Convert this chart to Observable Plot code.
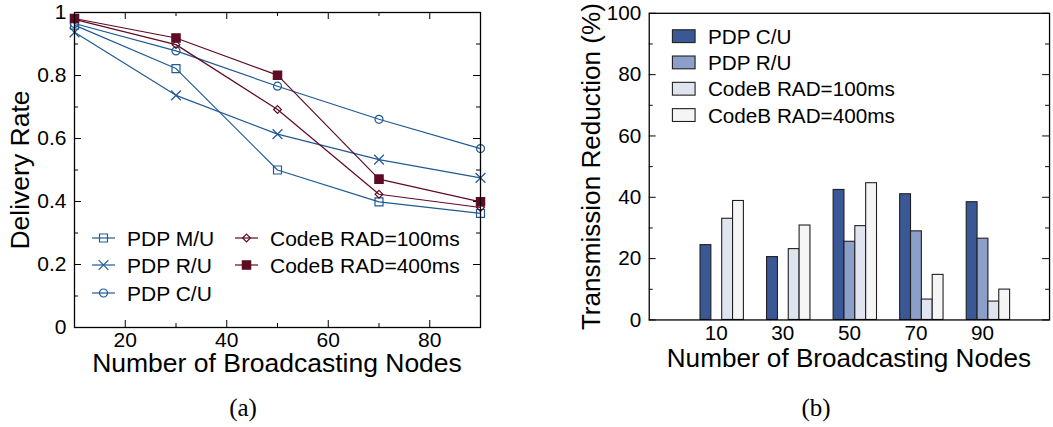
<!DOCTYPE html>
<html>
<head>
<meta charset="utf-8">
<script src="https://cdn.jsdelivr.net/npm/d3@7"></script>
<script src="https://cdn.jsdelivr.net/npm/@observablehq/plot@0.6"></script>
<style>
  body { margin: 0; background: #fff; overflow: hidden; }
  #wrap { position: relative; width: 1053px; height: 427px; overflow: hidden; background: #fff; }
  #a, #b { position: absolute; top: 0; }
  #a { left: 0; }
  #b { left: 560px; }
  .cap { position: absolute; top: 394px; font-family: "Liberation Serif", "Times New Roman", serif; font-size: 25px; color: #000; transform: translateX(-50%); }
</style>
</head>
<body>
<div id="wrap">
  <div id="a"></div>
  <div id="b"></div>
  <div class="cap" style="left:243px">(a)</div>
  <div class="cap" style="left:816px">(b)</div>
</div>
<script>
// ---------- data ----------
const nodes = [10, 30, 50, 70, 90];

// (a) delivery rate
const lineSeries = ["PDP M/U", "PDP R/U", "PDP C/U", "CodeB RAD=100ms", "CodeB RAD=400ms"];
const pdpMU    = [0.960, 0.822, 0.500, 0.399, 0.362];
const pdpRU    = [0.937, 0.737, 0.614, 0.533, 0.475];
const pdpCU    = [0.965, 0.878, 0.766, 0.661, 0.568];
const codeb100 = [0.978, 0.898, 0.692, 0.423, 0.381];
const codeb400 = [0.981, 0.919, 0.801, 0.471, 0.399];

// (b) transmission reduction (%)
const barSeries = ["PDP C/U", "PDP R/U", "CodeB RAD=100ms", "CodeB RAD=400ms"];
const redCU  = [24.4, 20.5, 42.4, 41.0, 38.4];
const redRU  = [0, 0, 25.5, 28.9, 26.5];
const red100 = [33.0, 23.1, 30.6, 6.65, 6.0];
const red400 = [38.8, 30.8, 44.6, 14.7, 9.9];

// ticks
const xTicksA = [20, 40, 60, 80];
const xMinorA = [30, 50, 70];
const yTicksA = [0, 0.2, 0.4, 0.6, 0.8, 1];
const yMinorA = [0.1, 0.3, 0.5, 0.7, 0.9];
const yTicksB = [0, 20, 40, 60, 80, 100];
const yMinorB = [10, 30, 50, 70, 90];

// ---------- styles ----------
const FONT = "'Liberation Sans', Arial, Helvetica, sans-serif";
const BLUE = "#215a94";
const RED = "#5e0b23";
const lineStyles = [
  {name: lineSeries[0], values: pdpMU,    color: BLUE, symbol: "square",   r: 4.5, fill: "none"},
  {name: lineSeries[1], values: pdpRU,    color: BLUE, symbol: "times",    r: 4.5, fill: "none"},
  {name: lineSeries[2], values: pdpCU,    color: BLUE, symbol: "circle",   r: 4.0, fill: "none"},
  {name: lineSeries[3], values: codeb100, color: RED,  symbol: "diamond2", r: 3.5, fill: "none"},
  {name: lineSeries[4], values: codeb400, color: RED,  symbol: "square",   r: 4.7, fill: RED}
];
const barColors = ["#3a5896", "#8c9fc9", "#dfe4ef", "#f5f5f5"];
const barValues = [redCU, redRU, red100, red400];

// ---------- chart (a) ----------
const WA = 500, HA = 380, mlA = 74, mrA = 20, mtA = 12, mbA = 53;
const pwA = WA - mlA - mrA, phA = HA - mtA - mbA;

const marksA = [];
for (const s of lineStyles) {
  const rows = nodes.map((n, i) => ({nodes: n, value: s.values[i]}));
  marksA.push(Plot.line(rows, {x: "nodes", y: "value", stroke: s.color, strokeWidth: 1.2}));
  marksA.push(Plot.dot(rows, {x: "nodes", y: "value", symbol: () => s.symbol, r: s.r,
    stroke: s.color, fill: s.fill, strokeWidth: 1.2}));
}

const chartA = Plot.plot({
  width: WA, height: HA,
  marginLeft: mlA, marginRight: mrA, marginTop: mtA, marginBottom: mbA,
  style: {fontFamily: FONT, fontSize: "21px", background: "transparent", overflow: "visible", color: "#000"},
  x: {domain: [10, 90]},
  y: {domain: [0, 1]},
  symbol: {type: "identity"},
  marks: [
    Plot.axisX({ticks: xTicksA, tickSize: 0, tickPadding: 5, label: null}),
    Plot.axisY({ticks: yTicksA, tickSize: 0, tickPadding: 8, label: null, tickFormat: d => String(d)}),
    // inward ticks (bottom/top/left/right)
    Plot.tickX(xTicksA, {x: d => d, insetTop: phA - 7, stroke: "#000"}),
    Plot.tickX(xTicksA, {x: d => d, insetBottom: phA - 7, stroke: "#000"}),
    Plot.tickX(xMinorA, {x: d => d, insetTop: phA - 4, stroke: "#000"}),
    Plot.tickX(xMinorA, {x: d => d, insetBottom: phA - 4, stroke: "#000"}),
    Plot.tickY(yTicksA, {y: d => d, insetRight: pwA - 7, stroke: "#000"}),
    Plot.tickY(yTicksA, {y: d => d, insetLeft: pwA - 7, stroke: "#000"}),
    Plot.tickY(yMinorA, {y: d => d, insetRight: pwA - 4, stroke: "#000"}),
    Plot.tickY(yMinorA, {y: d => d, insetLeft: pwA - 4, stroke: "#000"}),
    ...marksA,
    Plot.frame({stroke: "#000", strokeWidth: 1.3})
  ]
});
document.getElementById("a").appendChild(chartA);

// axis titles + legend for (a)
{
  const svg = d3.select(chartA);
  svg.append("text").attr("transform", "translate(29,170) rotate(-90)")
    .attr("text-anchor", "middle").style("font-size", "26.5px").style("font-family", FONT)
    .attr("fill", "#000").text("Delivery Rate");
  svg.append("text").attr("x", 277).attr("y", 372)
    .attr("text-anchor", "middle").style("font-size", "26.5px").style("font-family", FONT)
    .attr("fill", "#000").text("Number of Broadcasting Nodes");

  const legendPos = [
    {x: 92, y: 238}, {x: 92, y: 265}, {x: 92, y: 293}, {x: 235, y: 238}, {x: 235, y: 265}
  ];
  const symMap = {square: d3.symbolSquare, times: d3.symbolTimes, circle: d3.symbolCircle, diamond2: d3.symbolDiamond2};
  lineStyles.forEach((s, i) => {
    const p = legendPos[i];
    const g = svg.append("g").attr("transform", `translate(${p.x},${p.y})`);
    g.append("line").attr("x1", 0).attr("x2", 23).attr("y1", 0).attr("y2", 0)
      .attr("stroke", s.color).attr("stroke-width", 1.2);
    g.append("path").attr("transform", "translate(11.5,0)")
      .attr("d", d3.symbol(symMap[s.symbol], Math.PI * s.r * s.r)())
      .attr("stroke", s.color).attr("stroke-width", 1.2).attr("fill", s.fill);
    g.append("text").attr("x", 35).attr("y", 0).attr("dy", "0.36em")
      .attr("text-anchor", "start")
      .style("font-size", "21px").style("font-family", FONT).attr("fill", "#000").text(s.name);
  });
}

// ---------- chart (b) ----------
const WB = 500, HB = 380, mlB = 90, mrB = 4, mtB = 13, mbB = 56;
const pwB = WB - mlB - mrB, phB = HB - mtB - mbB;
const pxPerUnit = 67.5 / 20;           // group spacing
const bw = 11 / pxPerUnit;             // bar width in x units
const xLeft = 10 - 74 / pxPerUnit;
const xRight = xLeft + pwB / pxPerUnit;

const barRows = [];
barSeries.forEach((s, k) => {
  nodes.forEach((n, i) => {
    const v = barValues[k][i];
    if (v > 0) barRows.push({series: s, k, nodes: n, value: v});
  });
});

const chartB = Plot.plot({
  width: WB, height: HB,
  marginLeft: mlB, marginRight: mrB, marginTop: mtB, marginBottom: mbB,
  style: {fontFamily: FONT, fontSize: "21px", background: "transparent", overflow: "visible", color: "#000"},
  x: {domain: [xLeft, xRight]},
  y: {domain: [0, 100]},
  color: {domain: barSeries, range: barColors},
  marks: [
    Plot.axisX({ticks: nodes, tickSize: 0, tickPadding: 5, dx: -6, label: null, tickFormat: d => String(d)}),
    Plot.axisY({ticks: yTicksB, tickSize: 0, tickPadding: 8, label: null}),
    Plot.tickY(yTicksB, {y: d => d, insetRight: pwB - 7, stroke: "#000"}),
    Plot.tickY(yTicksB, {y: d => d, insetLeft: pwB - 7, stroke: "#000"}),
    Plot.tickY(yMinorB, {y: d => d, insetRight: pwB - 4, stroke: "#000"}),
    Plot.tickY(yMinorB, {y: d => d, insetLeft: pwB - 4, stroke: "#000"}),
    Plot.rect(barRows, {
      x1: d => d.nodes + (d.k - 2) * bw,
      x2: d => d.nodes + (d.k - 1) * bw,
      y1: 0, y2: "value",
      fill: "series", stroke: "#1e1e1e", strokeWidth: 1.1
    }),
    Plot.frame({stroke: "#000", strokeWidth: 1.3})
  ]
});
document.getElementById("b").appendChild(chartB);

{
  const svg = d3.select(chartB);
  svg.append("text").attr("transform", "translate(41,169) rotate(-90)")
    .attr("text-anchor", "middle").style("font-size", "26.5px").style("font-family", FONT)
    .attr("fill", "#000").text("Transmission Reduction (%)");
  svg.append("text").attr("x", 293).attr("y", 372)
    .attr("text-anchor", "middle").style("font-size", "26.5px").style("font-family", FONT)
    .attr("fill", "#000").text("Number of Broadcasting Nodes");

  const rowsY = [36.7, 63.3, 90, 116.7];
  barSeries.forEach((s, k) => {
    const g = svg.append("g").attr("transform", `translate(114,${rowsY[k]})`);
    g.append("rect").attr("x", 0).attr("y", -6.5).attr("width", 23).attr("height", 13)
      .attr("fill", barColors[k]).attr("stroke", "#1e1e1e").attr("stroke-width", 1.1);
    g.append("text").attr("x", 36).attr("y", 0).attr("dy", "0.36em")
      .attr("text-anchor", "start")
      .style("font-size", "21px").style("font-family", FONT).attr("fill", "#000").text(s);
  });
}
</script>
</body>
</html>
